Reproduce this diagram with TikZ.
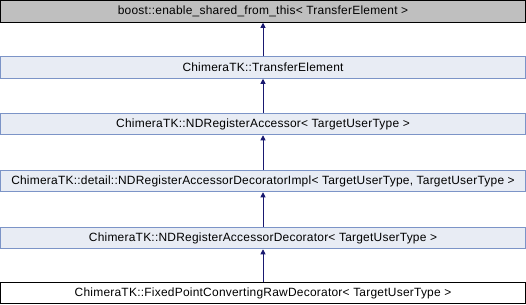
\documentclass[tikz,border=0pt]{standalone}
\usepackage{fontspec}
\setmainfont{Liberation Sans}[LetterSpace=2]
\usetikzlibrary{arrows.meta}
\definecolor{clsfill}{RGB}{232,236,244}
\definecolor{clsdraw}{RGB}{124,148,199}
\definecolor{basefill}{RGB}{191,191,191}
\definecolor{edgecol}{RGB}{25,25,112}
\begin{document}
\begin{tikzpicture}[x=1bp,y=-1bp,
  cls/.style={draw=clsdraw,fill=clsfill,line width=1bp,minimum width=524bp,minimum height=21.5bp,inner sep=0pt,font=\fontsize{12}{14}\selectfont},
  basecls/.style={cls,draw=black,fill=basefill},
  leafcls/.style={cls,draw=black,fill=white},
  inherit/.style={draw=edgecol,line width=0.9bp,-{Triangle[length=5bp,width=5bp]}}]
\useasboundingbox (0,0) rectangle (526,304);
\node[basecls] (b0) at (263,11.5) {boost::enable\_shared\_from\_this< TransferElement >};
\node[cls] (b1) at (263,67.5) {ChimeraTK::TransferElement};
\node[cls] (b2) at (263,124) {ChimeraTK::NDRegisterAccessor< TargetUserType >};
\node[cls] (b3) at (263,181) {ChimeraTK::detail::NDRegisterAccessorDecoratorImpl< TargetUserType, TargetUserType >};
\node[cls] (b4) at (263,238) {ChimeraTK::NDRegisterAccessorDecorator< TargetUserType >};
\node[leafcls] (b5) at (263,293) {ChimeraTK::FixedPointConvertingRawDecorator< TargetUserType >};
\draw[inherit] (b1.north) -- (b0.south);
\draw[inherit] (b2.north) -- (b1.south);
\draw[inherit] (b3.north) -- (b2.south);
\draw[inherit] (b4.north) -- (b3.south);
\draw[inherit] (b5.north) -- (b4.south);
\end{tikzpicture}
\end{document}
